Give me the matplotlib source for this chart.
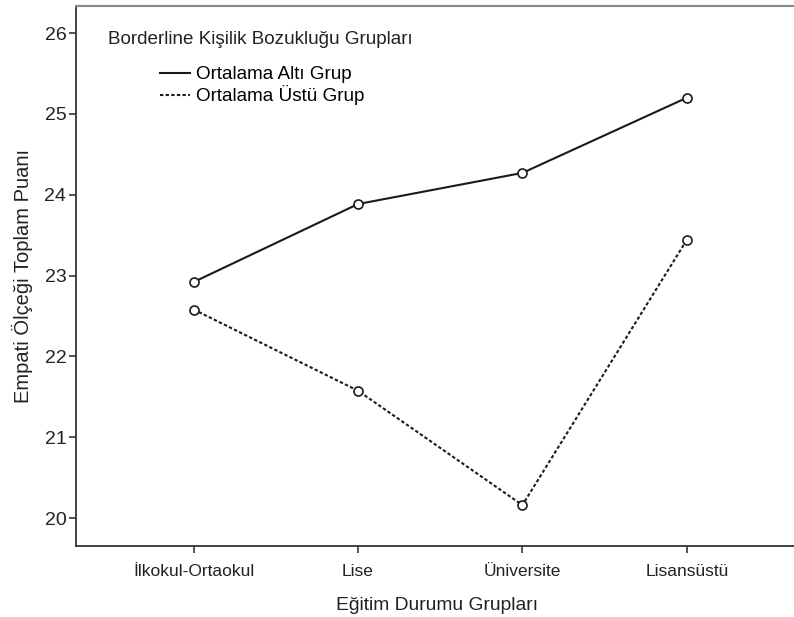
import numpy as np
import matplotlib.pyplot as plt
from matplotlib.lines import Line2D

plt.rcParams["font.family"] = ["Liberation Sans", "DejaVu Sans"]

# Mean empathy scores by education group
groups = ["İlkokul-Ortaokul", "Lise", "Üniversite", "Lisansüstü"]
below_avg = [22.92, 23.885, 24.27, 25.20]   # Ortalama Altı Grup
above_avg = [22.58, 21.575, 20.16, 23.44]   # Ortalama Üstü Grup
yticks = [20, 21, 22, 23, 24, 25, 26]

fig = plt.figure(figsize=(7.94, 6.17), dpi=100)
ax = fig.add_axes([0.0957, 0.1151, 0.91, 0.875])

x = np.arange(len(groups))
ax.plot(x, below_avg, color="#1a1a1a", lw=1.5, marker="o", ms=6.5,
        mfc="white", mec="#1a1a1a", mew=1.2)
ax.plot(x, above_avg, color="#1a1a1a", lw=1.5, dashes=(1.6, 1.1), marker="o", ms=6.5,
        mfc="white", mec="#1a1a1a", mew=1.2)

ax.set_xlim(-0.716, 3.68)
ax.set_ylim(19.654, 26.334)
ax.set_xticks(x)
ax.set_xticklabels(groups, fontsize=12.5, color="#222222")
ax.set_yticks(yticks)
ax.set_yticklabels([str(v) for v in yticks], fontsize=14, color="#222222")
ax.tick_params(direction="out", length=5, width=1.2, color="#333333")
ax.tick_params(axis="x", pad=8)
ax.tick_params(axis="y", pad=2)

ax.spines["left"].set_color("#333333")
ax.spines["bottom"].set_color("#333333")
ax.spines["left"].set_linewidth(1.3)
ax.spines["bottom"].set_linewidth(1.3)
ax.spines["top"].set_color("#888888")
ax.spines["top"].set_linewidth(1.5)
ax.spines["right"].set_visible(False)

ax.set_xlabel("Eğitim Durumu Grupları", fontsize=13.9, color="#222222", labelpad=13)
ax.set_ylabel("Empati Ölçeği Toplam Puanı", fontsize=14.5, color="#222222", labelpad=8)

# legend: title text plus indented entries
ax.text(108, 617 - 40, "Borderline Kişilik Bozukluğu Grupları", transform=None,
        fontsize=13.6, color="#222222", va="center", ha="left")
handles = [Line2D([0], [0], color="#1a1a1a", lw=1.5),
           Line2D([0], [0], color="#1a1a1a", lw=1.5, dashes=(1.6, 1.1))]
ax.legend(handles, ["Ortalama Altı Grup", "Ortalama Üstü Grup"],
          loc="upper left", bbox_to_anchor=(160 / 794, (617 - 66) / 617),
          bbox_transform=fig.transFigure, frameon=False, fontsize=13.6,
          handlelength=1.6, handletextpad=0.28, labelspacing=0.12,
          borderpad=0, borderaxespad=0)

fig.savefig("out.png", dpi=100)
